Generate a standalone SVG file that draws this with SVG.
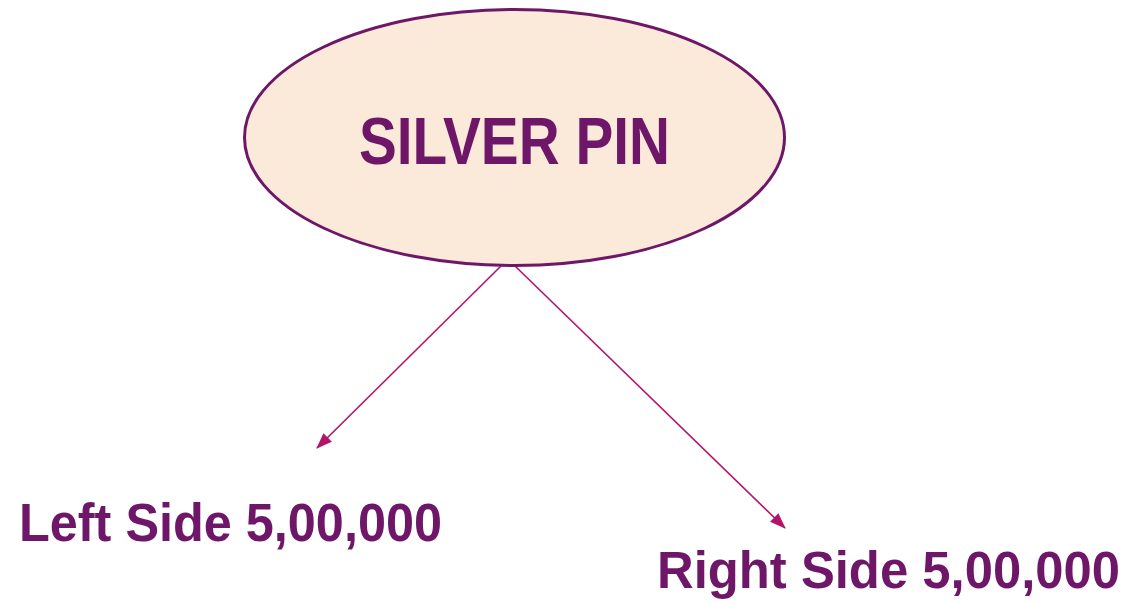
<svg xmlns="http://www.w3.org/2000/svg" width="1137" height="603" viewBox="0 0 1137 603">
<style>
.lbl{font-family:"Liberation Sans",Arial,sans-serif;font-weight:bold;fill:#6e1769;}
.conn{stroke:#b3136a;stroke-width:1.6;fill:none;marker-end:url(#ah);}
</style>
<defs>
<marker id="ah" markerWidth="16" markerHeight="12" refX="15" refY="6" orient="auto" markerUnits="userSpaceOnUse">
<path d="M0,0 L16,6 L0,12 Z" fill="#b3136a"/>
</marker>
</defs>
<rect width="1137" height="603" fill="#ffffff"/>
<g id="connectors">
<line class="conn" x1="501" y1="266" x2="317" y2="448"/>
<line class="conn" x1="515" y1="266" x2="785" y2="528"/>
</g>
<g id="silver-pin">
<ellipse cx="514.5" cy="137.5" rx="270" ry="128" fill="#fbe9d9" stroke="#6e1769" stroke-width="3"/>
<text class="lbl" x="359" y="164" font-size="66" textLength="311" lengthAdjust="spacingAndGlyphs">SILVER PIN</text>
</g>
<g id="left-side">
<text class="lbl" x="19" y="541" font-size="54" textLength="423" lengthAdjust="spacingAndGlyphs">Left Side 5,00,000</text>
</g>
<g id="right-side">
<text class="lbl" x="657" y="588" font-size="51" textLength="463" lengthAdjust="spacingAndGlyphs">Right Side 5,00,000</text>
</g>
</svg>
